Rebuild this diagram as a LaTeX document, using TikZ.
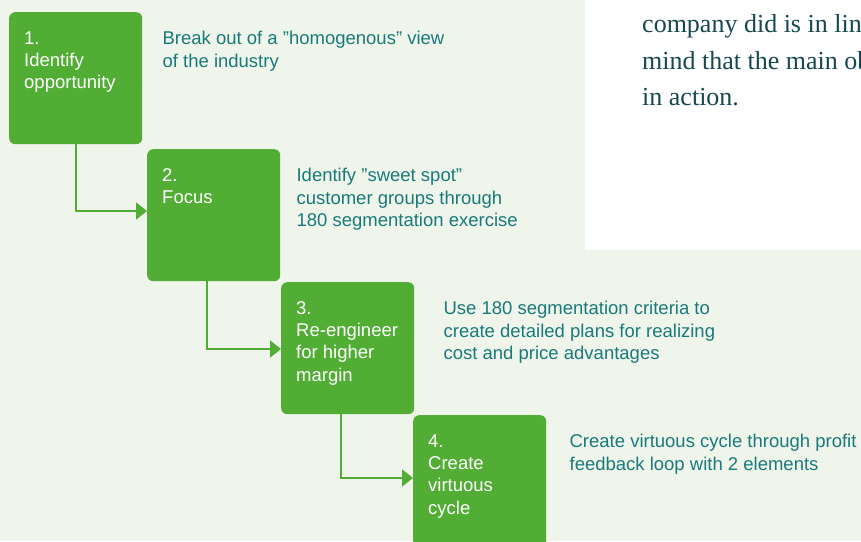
\documentclass[tikz,border=0pt]{standalone}
\usepackage{fontspec}
\setmainfont{Liberation Sans}
\newfontfamily\bodyserif{Liberation Serif}
\usetikzlibrary{arrows.meta}
\definecolor{pagebg}{RGB}{240,245,236}
\definecolor{stepgreen}{RGB}{82,173,53}
\definecolor{noteteal}{RGB}{24,122,122}
\definecolor{bodyink}{RGB}{22,72,82}
\begin{document}
\begin{tikzpicture}[x=1pt,y=-1pt,
  stepbox/.style={fill=stepgreen, rounded corners=6pt, minimum width=133pt,
    minimum height=132pt, inner sep=0pt, anchor=north west},
  % text blocks hang from their top edge
  textblock/.style={font=\fontsize{18.5}{22.3}\selectfont, align=left,
    anchor=north west, inner sep=0pt},
  steptext/.style={textblock, text=white},
  note/.style={textblock, text=noteteal},
  flow/.style={draw=stepgreen, line width=1.8pt,
    -{Triangle[length=11pt,width=17pt]}}]
  % page area
  \useasboundingbox (0,0) rectangle (861,541);
  \clip (0,0) rectangle (861,541);
  \fill[pagebg] (0,0) rectangle (861,541);

  % body-text panel at the top right
  \fill[white] (585,0) rectangle (861,250);
  \node (body) [text=bodyink, font=\bodyserif\fontsize{26}{36.5}\selectfont,
    align=left, anchor=north west, inner sep=0pt] at (642,14.5)
    {company did is in lin\\mind that the main ob\\in action.};

  % the four steps
  \node (b1) [stepbox] at (9,12) {};
  \node (b2) [stepbox] at (147,149) {};
  \node (b3) [stepbox] at (281,282) {};
  \node (b4) [stepbox] at (413,415) {};

  \node (t1) [steptext] at ([xshift=15pt,yshift=-19.2pt]b1.north west) {1.\\Identify\\opportunity};
  \node (t2) [steptext] at ([xshift=15pt,yshift=-19.2pt]b2.north west) {2.\\Focus};
  \node (t3) [steptext] at ([xshift=15pt,yshift=-19.2pt]b3.north west) {3.\\Re-engineer\\for higher\\margin};
  \node (t4) [steptext] at ([xshift=15pt,yshift=-19.2pt]b4.north west) {4.\\Create\\virtuous\\cycle};

  % explanations beside each step
  \node (n1) [note] at ([xshift=20pt,yshift=-19.2pt]b1.north east) {Break out of a ”homogenous” view\\of the industry};
  \node (n2) [note] at ([xshift=16pt,yshift=-19.2pt]b2.north east) {Identify ”sweet spot”\\customer groups through\\180 segmentation exercise};
  \node (n3) [note] at ([xshift=29pt,yshift=-19.2pt]b3.north east) {Use 180 segmentation criteria to\\create detailed plans for realizing\\cost and price advantages};
  \node (n4) [note] at ([xshift=23pt,yshift=-19.2pt]b4.north east) {Create virtuous cycle through profit\\feedback loop with 2 elements};

  % connectors
  \draw[flow] ([xshift=67pt]b1.south west) |- ([yshift=-62pt]b2.north west);
  \draw[flow] ([xshift=60pt]b2.south west) |- ([yshift=-67pt]b3.north west);
  \draw[flow] ([xshift=60pt]b3.south west) |- ([yshift=-63pt]b4.north west);
\end{tikzpicture}
\end{document}
